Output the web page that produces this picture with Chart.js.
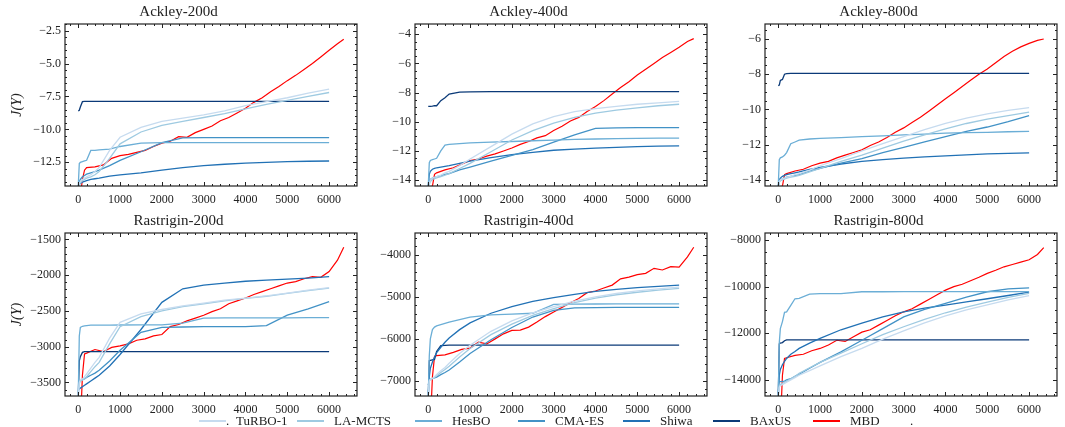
<!DOCTYPE html>
<html>
<head>
<meta charset="utf-8">
<script src="https://cdn.jsdelivr.net/npm/chart.js@4.4.1/dist/chart.umd.min.js"></script>
<style>
  body { margin: 0; background: #fff; }
  #wrap { position: relative; width: 1065px; height: 427px; overflow: hidden; }
  canvas { position: absolute; }
  #legend { position: absolute; top: 414px; left: 0; width: 1065px; height: 13px; z-index: 2;
            font-family: 'Liberation Serif', 'Times New Roman', serif; font-size: 13px; color: #222; }
  #legend .item { position: absolute; top: 0; display: flex; align-items: center; height: 13px; white-space: nowrap; }
  #legend .line { display: inline-block; width: 27px; height: 2px; margin-right: 10px; }
</style>
</head>
<body>
<div id="wrap">
  <canvas id="c0" width="363" height="205" style="left:0px;top:0px"></canvas>
  <canvas id="c1" width="363" height="205" style="left:350px;top:0px"></canvas>
  <canvas id="c2" width="363" height="205" style="left:700px;top:0px"></canvas>
  <canvas id="c3" width="363" height="206" style="left:0px;top:209px"></canvas>
  <canvas id="c4" width="363" height="206" style="left:350px;top:209px"></canvas>
  <canvas id="c5" width="363" height="206" style="left:700px;top:209px"></canvas>
  <div id="legend"></div>
</div>
<script>
// methodes et couleurs (palette Blues + rouge)
const methods = ['TuRBO-1', 'LA-MCTS', 'HesBO', 'CMA-ES', 'Shiwa', 'BAxUS', 'MBD'];
const colors = ['#c6dbef', '#9ecae1', '#6baed6', '#4292c6', '#2171b5', '#0b3a78', '#ff0000'];

// evaluations (axe x)
const evals = [0, 25, 50, 100, 150, 200, 300, 400, 500, 750, 1000, 1500, 2000, 2500, 3000, 3500, 4000, 4500, 5000, 5500, 6000];
const evalsMBD = [80, 100, 150, 200, 400, 600, 800, 1000, 1200, 1400, 1600, 1800, 2000, 2200, 2400, 2600, 2800, 3000,
  3200, 3400, 3600, 3800, 4000, 4200, 4400, 4600, 4800, 5000, 5200, 5400, 5600, 5800, 6000, 6200, 6350];
const xTicks = [0, 1000, 2000, 3000, 4000, 5000, 6000];

const titles = ['Ackley-200d', 'Ackley-400d', 'Ackley-800d', 'Rastrigin-200d', 'Rastrigin-400d', 'Rastrigin-800d'];
const yLimits = [[-14.3, -2.0], [-14.4, -3.3], [-14.35, -5.15], [-3690, -1410], [-7360, -3480], [-14690, -7700]];
const yTicks = [
  [-12.5, -10, -7.5, -5, -2.5],
  [-14, -12, -10, -8, -6, -4],
  [-14, -12, -10, -8, -6],
  [-3500, -3000, -2500, -2000, -1500],
  [-7000, -6000, -5000, -4000],
  [-14000, -12000, -10000, -8000]
];
const yMinor = [0.5, 0.5, 0.5, 100, 200, 500];

// J(Y) par methode, dans l'ordre de methods (MBD sur evalsMBD)
const ackley200 = [
  [-14.3, -14.1, -13.95, -13.8, -13.7, -13.6, -13.45, -13.2, -12.9, -11.6, -10.6, -9.85, -9.4, -9.15, -8.9, -8.6, -8.2, -7.9, -7.6, -7.25, -6.95],
  [-14.3, -14.2, -14.05, -13.9, -13.8, -13.7, -13.6, -13.45, -13.2, -12.2, -11.1, -10.2, -9.7, -9.4, -9.1, -8.8, -8.45, -8.1, -7.8, -7.5, -7.2],
  [-14.3, -12.6, -12.5, -12.45, -12.4, -12.35, -11.6, -11.6, -11.55, -11.5, -11.3, -11.05, -11.0, -11.0, -11.0, -11.0, -11.0, -11.0, -11.0, -11.0, -11.0],
  [-14.3, -14.0, -13.8, -13.6, -13.5, -13.4, -13.3, -13.2, -13.1, -12.75, -12.35, -11.7, -11.0, -10.65, -10.62, -10.62, -10.62, -10.62, -10.62, -10.62, -10.62],
  [-14.3, -14.2, -14.1, -14.0, -13.95, -13.9, -13.8, -13.75, -13.7, -13.55, -13.45, -13.3, -13.1, -12.9, -12.75, -12.65, -12.57, -12.5, -12.45, -12.42, -12.4],
  [-8.6, -8.55, -8.3, -7.9, -7.88, -7.88, -7.88, -7.88, -7.88, -7.88, -7.88, -7.88, -7.88, -7.88, -7.88, -7.88, -7.88, -7.88, -7.88, -7.88, -7.88],
  [-14.3, -13.8, -13.1, -12.9, -12.85, -12.7, -12.2, -12.0, -11.9, -11.75, -11.6, -11.3, -11.05, -10.9, -10.55, -10.6, -10.25, -10.0,
   -9.75, -9.35, -9.1, -8.75, -8.4, -7.95, -7.6, -7.15, -6.75, -6.3, -5.9, -5.45, -5.0, -4.5, -4.0, -3.5, -3.15]
];
const ackley400 = [
  [-14.4, -14.2, -14.0, -13.85, -13.8, -13.75, -13.65, -13.5, -13.4, -13.0, -12.55, -11.7, -10.85, -10.15, -9.65, -9.3, -9.1, -8.95, -8.8, -8.7, -8.6],
  [-14.4, -14.3, -14.1, -13.95, -13.9, -13.85, -13.75, -13.65, -13.55, -13.2, -12.85, -12.05, -11.25, -10.6, -10.1, -9.7, -9.4, -9.2, -9.05, -8.9, -8.8],
  [-14.4, -12.8, -12.65, -12.6, -12.55, -12.5, -12.0, -11.6, -11.55, -11.5, -11.45, -11.4, -11.35, -11.3, -11.25, -11.2, -11.18, -11.15, -11.13, -11.12, -11.12],
  [-14.4, -14.1, -13.95, -13.85, -13.8, -13.75, -13.7, -13.6, -13.55, -13.3, -13.1, -12.7, -12.3, -11.9, -11.4, -10.9, -10.45, -10.42, -10.4, -10.4, -10.4],
  [-14.4, -13.6, -13.4, -13.25, -13.2, -13.15, -13.1, -13.05, -13.0, -12.85, -12.7, -12.45, -12.25, -12.1, -11.95, -11.87, -11.8, -11.75, -11.7, -11.67, -11.65],
  [-8.95, -8.95, -8.95, -8.93, -8.9, -8.9, -8.55, -8.35, -8.1, -7.97, -7.95, -7.93, -7.93, -7.93, -7.93, -7.93, -7.93, -7.93, -7.93, -7.93, -7.93],
  [-14.4, -14.4, -13.6, -13.5, -13.3, -13.15, -12.9, -12.65, -12.55, -12.35, -12.2, -12.0, -11.8, -11.55, -11.35, -11.1, -10.95, -10.6,
   -10.3, -9.95, -9.7, -9.3, -8.95, -8.55, -8.1, -7.65, -7.25, -6.8, -6.4, -6.0, -5.6, -5.25, -4.9, -4.5, -4.3]
];
const ackley800 = [
  [-14.35, -14.1, -14.0, -13.95, -13.9, -13.85, -13.8, -13.7, -13.65, -13.45, -13.2, -12.8, -12.35, -11.95, -11.55, -11.15, -10.8, -10.5, -10.25, -10.05, -9.9],
  [-14.35, -14.15, -14.05, -14.0, -13.95, -13.9, -13.85, -13.8, -13.75, -13.55, -13.35, -12.95, -12.6, -12.2, -11.8, -11.45, -11.1, -10.8, -10.55, -10.35, -10.15],
  [-14.35, -12.85, -12.75, -12.7, -12.6, -12.45, -11.95, -11.85, -11.75, -11.68, -11.65, -11.6, -11.55, -11.5, -11.45, -11.4, -11.35, -11.32, -11.3, -11.27, -11.25],
  [-14.35, -14.1, -14.0, -13.95, -13.9, -13.85, -13.8, -13.75, -13.7, -13.5, -13.35, -13.05, -12.8, -12.45, -12.15, -11.85, -11.55, -11.25, -11.0, -10.7, -10.35],
  [-14.35, -14.0, -13.9, -13.8, -13.75, -13.7, -13.65, -13.6, -13.55, -13.4, -13.3, -13.1, -12.95, -12.85, -12.77, -12.7, -12.64, -12.58, -12.53, -12.5, -12.47],
  [-8.65, -8.62, -8.35, -8.3, -8.0, -7.97, -7.95, -7.95, -7.95, -7.95, -7.95, -7.95, -7.95, -7.95, -7.95, -7.95, -7.95, -7.95, -7.95, -7.95, -7.95],
  [-14.35, -14.35, -13.7, -13.65, -13.5, -13.4, -13.2, -13.05, -12.95, -12.75, -12.6, -12.45, -12.3, -12.05, -11.85, -11.6, -11.3, -11.05,
   -10.75, -10.45, -10.1, -9.75, -9.4, -9.05, -8.7, -8.35, -8.0, -7.7, -7.35, -7.0, -6.7, -6.45, -6.25, -6.08, -6.0]
];
const rastrigin200 = [
  [-3690, -3500, -3460, -3450, -3420, -3380, -3300, -3220, -3150, -2880, -2660, -2540, -2480, -2430, -2390, -2350, -2320, -2290, -2250, -2210, -2175],
  [-3690, -3520, -3480, -3470, -3450, -3420, -3350, -3280, -3220, -2960, -2720, -2580, -2500, -2440, -2400, -2360, -2325, -2295, -2255, -2215, -2180],
  [-3690, -2850, -2730, -2715, -2710, -2705, -2700, -2700, -2700, -2698, -2697, -2696, -2695, -2670, -2600, -2598, -2597, -2596, -2596, -2595, -2595],
  [-3480, -3470, -3465, -3460, -3450, -3430, -3400, -3370, -3330, -3200, -3050, -2800, -2730, -2725, -2720, -2720, -2720, -2705, -2560, -2470, -2370],
  [-3600, -3590, -3580, -3560, -3540, -3520, -3480, -3440, -3400, -3270, -3110, -2760, -2380, -2190, -2140, -2110, -2085, -2070, -2055, -2040, -2020],
  [-3690, -3200, -3140, -3080, -3070, -3068, -3068, -3068, -3068, -3068, -3068, -3068, -3068, -3068, -3068, -3068, -3068, -3068, -3068, -3068, -3068],
  [-3690, -3400, -3100, -3090, -3040, -3070, -3010, -2990, -2960, -2910, -2890, -2850, -2830, -2720, -2690, -2640, -2600, -2560,
   -2510, -2470, -2400, -2360, -2320, -2270, -2230, -2190, -2150, -2110, -2090, -2050, -2020, -2030, -1950, -1790, -1610]
];
const rastrigin400 = [
  [-7360, -7000, -6960, -6940, -6900, -6850, -6760, -6680, -6580, -6350, -6150, -5820, -5570, -5380, -5230, -5100, -5000, -4920, -4860, -4810, -4770],
  [-7360, -7000, -6970, -6950, -6920, -6880, -6800, -6730, -6650, -6430, -6230, -5900, -5650, -5440, -5280, -5140, -5030, -4950, -4890, -4840, -4800],
  [-7360, -6400, -6000, -5780, -5720, -5690, -5660, -5630, -5600, -5540, -5480, -5430, -5410, -5390, -5180, -5175, -5170, -5168, -5166, -5165, -5165],
  [-7100, -6980, -6960, -6940, -6930, -6910, -6850, -6800, -6740, -6550, -6350, -6020, -5730, -5480, -5320, -5260, -5255, -5252, -5250, -5250, -5250],
  [-7360, -6900, -6700, -6550, -6430, -6330, -6200, -6080, -5980, -5780, -5620, -5390, -5230, -5110, -5020, -4940, -4870, -4820, -4780, -4750, -4720],
  [-7360, -6520, -6510, -6500, -6490, -6300, -6160, -6155, -6150, -6150, -6150, -6150, -6150, -6150, -6150, -6150, -6150, -6150, -6150, -6150, -6150],
  [-7360, -6900, -6420, -6400, -6380, -6320, -6250, -6220, -6080, -6120, -6000, -5880, -5800, -5790, -5720, -5600, -5470, -5360,
   -5250, -5140, -5040, -4900, -4860, -4790, -4720, -4570, -4530, -4470, -4440, -4320, -4360, -4280, -4290, -4050, -3820]
];
const rastrigin800 = [
  [-14690, -14300, -14250, -14200, -14150, -14100, -14000, -13900, -13800, -13600, -13400, -13000, -12650, -12250, -11900, -11550, -11250, -11000, -10780, -10570, -10390],
  [-14690, -14250, -14200, -14150, -14100, -14050, -13950, -13850, -13720, -13480, -13250, -12850, -12450, -12060, -11720, -11400, -11120, -10880, -10660, -10460, -10290],
  [-14690, -12400, -11800, -11500, -11100, -11080, -10800, -10520, -10500, -10320, -10300, -10300, -10220, -10220, -10218, -10217, -10216, -10215, -10215, -10215, -10215],
  [-14100, -14080, -14070, -14060, -14050, -14000, -13950, -13850, -13750, -13500, -13250, -12800, -12300, -11800, -11300, -10980, -10720, -10450, -10220, -10100, -10050],
  [-14690, -13800, -13550, -13350, -13200, -13080, -12900, -12780, -12650, -12420, -12220, -11850, -11570, -11300, -11080, -10920, -10790, -10650, -10520, -10380, -10240],
  [-14690, -12450, -12420, -12400, -12320, -12285, -12285, -12285, -12285, -12285, -12285, -12285, -12285, -12285, -12285, -12285, -12285, -12285, -12285, -12285, -12285],
  [-14690, -13800, -13080, -13050, -12950, -12900, -12750, -12650, -12500, -12300, -12350, -12150, -11950, -11850, -11650, -11450, -11250, -11080,
   -10950, -10750, -10550, -10350, -10150, -10000, -9900, -9750, -9600, -9430, -9300, -9150, -9050, -8950, -8850, -8620, -8330]
];
const panels = [ackley200, ackley400, ackley800, rastrigin200, rastrigin400, rastrigin800];

const FONT = "'Liberation Serif', 'Times New Roman', serif";
const XMIN = -317, XMAX = 6667;

function fmt(v, ticks) {
  const dec = ticks.some(t => !Number.isInteger(t)) ? 1 : 0;
  const s = Math.abs(v).toFixed(dec);
  return v < 0 ? '\u2212' + s : s;
}

// cadre + graduations internes (majeures et mineures) sur les 4 cotes
const frameTicks = {
  id: 'frameTicks',
  afterDraw(chart, args, opts) {
    const { ctx, chartArea: a, scales: { x, y } } = chart;
    ctx.save();
    ctx.strokeStyle = '#222';
    ctx.lineWidth = 1;
    const tick = (x1, y1, x2, y2) => { ctx.beginPath(); ctx.moveTo(x1, y1); ctx.lineTo(x2, y2); ctx.stroke(); };
    // x
    for (let v = -200; v <= XMAX; v += 200) {
      const px = Math.round(x.getPixelForValue(v)) + 0.5;
      if (px < a.left || px > a.right) continue;
      const len = v % 1000 === 0 ? 4 : 2;
      tick(px, a.bottom, px, a.bottom - len);
      tick(px, a.top, px, a.top + len);
    }
    // y
    const step = opts.minor, tk = opts.ticks;
    const major = tk[1] - tk[0];
    for (let v = tk[0] - major; v <= y.max; v += step) {
      const py = Math.round(y.getPixelForValue(v)) + 0.5;
      if (py < a.top || py > a.bottom) continue;
      const isMajor = tk.some(t => Math.abs(t - v) < step / 10);
      const len = isMajor ? 4 : 2;
      tick(a.left, py, a.left + len, py);
      tick(a.right, py, a.right - len, py);
    }
    ctx.lineWidth = 1.2;
    ctx.strokeRect(a.left, a.top, a.width, a.height);
    ctx.restore();
  }
};

panels.forEach((series, i) => {
  const datasets = series.map((vals, m) => {
    const xs = m === 6 ? evalsMBD : evals;
    return {
      label: methods[m],
      data: vals.map((v, k) => ({ x: xs[k], y: v })),
      borderColor: colors[m],
      borderWidth: m === 6 ? 1.2 : 1.3,
      pointRadius: 0,
      tension: 0,
      fill: false
    };
  });
  const ticks = yTicks[i];
  new Chart(document.getElementById('c' + i), {
    type: 'line',
    data: { datasets },
    plugins: [frameTicks],
    options: {
      responsive: false,
      animation: false,
      layout: { padding: { left: 0, right: 6, top: 0, bottom: 0 } },
      plugins: {
        legend: { display: false },
        tooltip: { enabled: false },
        title: {
          display: true, text: titles[i], color: '#222',
          font: { family: FONT, size: 15, weight: 'normal', lineHeight: 1 },
          padding: { top: 5, bottom: 4 }
        },
        frameTicks: { ticks: ticks, minor: yMinor[i] }
      },
      scales: {
        x: {
          type: 'linear', min: XMIN, max: XMAX,
          grid: { display: false, drawTicks: false },
          border: { display: false },
          afterBuildTicks: s => { s.ticks = xTicks.map(v => ({ value: v })); },
          afterFit: s => { s.height = 19; },
          ticks: { color: '#222', padding: 7, maxRotation: 0, font: { family: FONT, size: 12 }, callback: v => fmt(v, xTicks) }
        },
        y: {
          type: 'linear', min: yLimits[i][0], max: yLimits[i][1],
          grid: { display: false, drawTicks: false },
          border: { display: false },
          afterBuildTicks: s => { s.ticks = ticks.map(v => ({ value: v })); },
          afterFit: s => { s.width = 65; },
          ticks: { color: '#222', padding: 4, font: { family: FONT, size: 12 }, callback: v => fmt(v, ticks) },
          title: {
            display: i % 3 === 0, text: 'J(Y)', color: '#222',
            font: { family: FONT, size: 14, style: 'italic' }, padding: { top: 9, bottom: 0 }
          }
        }
      }
    }
  });
});

// legende commune (positions des libelles)
const legendX = [236, 334, 452, 555, 660, 750, 850];
const legend = document.getElementById('legend');
methods.forEach((name, m) => {
  const item = document.createElement('div');
  item.className = 'item';
  item.style.left = (legendX[m] - 37) + 'px';
  const line = document.createElement('span');
  line.className = 'line';
  line.style.backgroundColor = colors[m];
  const label = document.createElement('span');
  label.textContent = name;
  item.appendChild(line);
  item.appendChild(label);
  legend.appendChild(item);
});
[226, 910].forEach(x => {
  const dot = document.createElement('div');
  dot.className = 'item';
  dot.style.left = x + 'px';
  dot.textContent = '.';
  legend.appendChild(dot);
});
</script>
</body>
</html>
